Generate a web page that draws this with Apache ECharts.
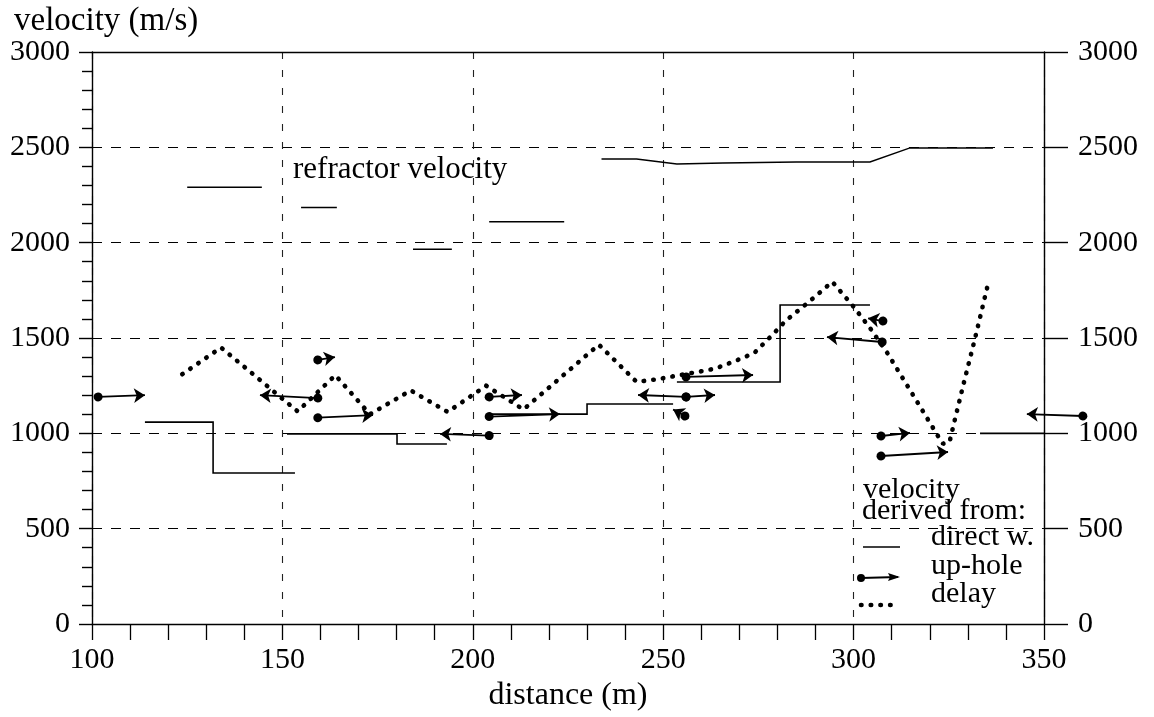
<!DOCTYPE html>
<html><head><meta charset="utf-8">
<script src="https://cdn.jsdelivr.net/npm/echarts@6/dist/echarts.min.js"></script>
<style>html,body{margin:0;padding:0;background:#fff}#c{width:1154px;height:717px}</style>
</head><body><div id="c"></div>
<script>
// ---- data (distance in m, velocity in m/s) ----
const xMin = 100, xMax = 350, xStep = 50;
const yMin = 0, yMax = 3000, yStep = 500;

// refractor velocity: short horizontal pieces [from, to, velocity]
const refractorSteps = [
  [125.0, 144.6, 2290],
  [154.9, 164.3, 2185],
  [184.3, 194.5, 1965],
  [204.3, 224.0, 2110]
];
// refractor velocity: continuous profile
const refractorProfile = [
  [233.8, 2439], [243.0, 2439], [253.6, 2413], [265.7, 2418],
  [285.0, 2423], [304.3, 2423], [314.8, 2497], [336.6, 2497]
];
// direct wave velocity steps [from, to, velocity]
const directSteps = [
  [113.9, 131.8, 1059], [131.8, 153.3, 792],
  [151.2, 180.1, 997], [180.1, 193.2, 944],
  [204.3, 230.0, 1101], [230.0, 252.6, 1154],
  [253.6, 280.7, 1269], [280.7, 304.3, 1673],
  [333.2, 350.0, 1000]
];
// up-hole velocities: dot position and arrow tip
const upholeDots = [
  [101.6, 1191], [159.3, 1185], [159.3, 1385], [159.3, 1082],
  [204.3, 1191], [204.3, 1088], [204.3, 988],
  [256.0, 1191], [256.0, 1191], [255.7, 1091], [256.0, 1296],
  [307.7, 1589], [307.5, 1479], [307.2, 986], [307.2, 881], [360.2, 1091]
];
const upholeTips = [
  [113.9, 1200], [144.1, 1200], [163.8, 1400], [173.8, 1095],
  [212.9, 1201], [222.9, 1101], [191.4, 997],
  [243.4, 1201], [263.6, 1201], [252.6, 1125], [273.6, 1306],
  [303.8, 1603], [293.0, 1505], [314.8, 1002], [324.8, 902], [345.5, 1101]
];
// delay-time derived velocity
const delayPoints = [
  [123.7, 1310], [133.9, 1450], [154.0, 1115], [163.9, 1305], [173.0, 1100],
  [183.7, 1225], [193.4, 1112], [203.5, 1250], [213.3, 1125], [233.1, 1465],
  [243.0, 1270], [248.3, 1283], [253.4, 1302], [258.5, 1320], [263.6, 1339],
  [268.7, 1378], [273.9, 1421], [278.9, 1521], [282.2, 1591], [288.3, 1690],
  [294.4, 1795], [300.0, 1664], [304.5, 1547], [308.9, 1420], [315.7, 1198],
  [322.0, 991], [323.5, 945], [325.2, 955], [326.4, 1056], [328.8, 1253],
  [332.0, 1507], [335.5, 1800]
];
const yAxisTitle = 'velocity (m/s)';
const xAxisTitle = 'distance (m)';
const annotation = 'refractor velocity';
const legendTitle = ['velocity', 'derived from:'];
const legendItems = ['direct w.', 'up-hole', 'delay'];

// ---- build ----
function stepsToPolylines(steps) {
  const lines = [];
  let cur = null, prev = null;
  steps.forEach(s => {
    if (prev && Math.abs(prev[1] - s[0]) < 1e-6) {
      cur.push([s[0], s[2]]);
    } else {
      cur = [[s[0], s[2]]];
      lines.push(cur);
    }
    cur.push([s[1], s[2]]);
    prev = s;
  });
  return lines.map(c => ({ coords: c }));
}

const FONT = '"Liberation Serif", "Times New Roman", serif';
const INK = '#000';

const chart = echarts.init(document.getElementById('c'), null, { renderer: 'canvas' });
const tickFont = { fontSize: 30, fontFamily: FONT, color: INK, formatter: v => String(v) };

chart.setOption({
  animation: false,
  backgroundColor: '#fff',
  grid: { left: 92, right: 110, top: 52, bottom: 93, containLabel: false },
  xAxis: [{
    type: 'value', min: xMin, max: xMax, interval: xStep, position: 'bottom',
    axisLine: { show: true, onZero: false, lineStyle: { color: INK, width: 1.4 } },
    axisTick: { show: true, inside: false, length: 16, lineStyle: { color: INK, width: 1.3 } },
    minorTick: { show: true, splitNumber: 5, length: 16, lineStyle: { color: INK, width: 1.3 } },
    axisLabel: Object.assign({ margin: 21 }, tickFont),
    splitLine: { show: true, lineStyle: { color: '#222', width: 1.1, type: [7, 11] } },
    name: xAxisTitle, nameLocation: 'middle', nameGap: 52,
    nameTextStyle: { fontSize: 32, fontFamily: FONT, color: INK }
  }, {
    type: 'value', min: xMin, max: xMax, position: 'top',
    axisLine: { show: true, onZero: false, lineStyle: { color: INK, width: 1.4 } },
    axisTick: { show: false }, axisLabel: { show: false }, splitLine: { show: false }
  }],
  yAxis: [{
    type: 'value', min: yMin, max: yMax, interval: yStep, position: 'left',
    axisLine: { show: true, onZero: false, lineStyle: { color: INK, width: 1.4 } },
    axisTick: { show: true, inside: false, length: 13, lineStyle: { color: INK, width: 1.4 } },
    minorTick: { show: true, splitNumber: 5, length: 10, lineStyle: { color: INK, width: 1.4 } },
    axisLabel: Object.assign({ margin: 22, padding: [0, 0, 8, 0] }, tickFont),
    splitLine: { show: true, lineStyle: { color: INK, width: 1.2, type: [10, 9] } }
  }, {
    type: 'value', min: yMin, max: yMax, interval: yStep, position: 'right',
    axisLine: { show: true, onZero: false, lineStyle: { color: INK, width: 1.4 } },
    axisTick: { show: true, inside: false, length: 24, lineStyle: { color: INK, width: 1.4 } },
    axisLabel: Object.assign({ margin: 34, padding: [0, 0, 8, 0] }, tickFont),
    splitLine: { show: false }
  }],
  series: [
    {
      name: 'refractor', type: 'lines', coordinateSystem: 'cartesian2d', polyline: true,
      xAxisIndex: 0, yAxisIndex: 0, silent: true,
      lineStyle: { color: INK, width: 1.5, opacity: 1 },
      data: refractorSteps.map(s => ({ coords: [[s[0], s[2]], [s[1], s[2]]] }))
        .concat([{ coords: refractorProfile }])
    },
    {
      name: 'direct w.', type: 'lines', coordinateSystem: 'cartesian2d', polyline: true,
      xAxisIndex: 0, yAxisIndex: 0, silent: true,
      lineStyle: { color: INK, width: 1.6, opacity: 1 },
      data: stepsToPolylines(directSteps)
    },
    {
      name: 'delay', type: 'line', xAxisIndex: 0, yAxisIndex: 0, silent: true,
      showSymbol: false, symbol: 'none',
      lineStyle: { color: INK, width: 4.6, type: [0.5, 9.2], cap: 'round' },
      data: delayPoints
    },
    {
      name: 'up-hole', type: 'lines', coordinateSystem: 'cartesian2d',
      xAxisIndex: 0, yAxisIndex: 0, silent: true, clip: false,
      symbol: ['circle', 'arrow'], symbolSize: [9, 11],
      lineStyle: { color: INK, width: 1.8, opacity: 1 },
      itemStyle: { opacity: 1 },
      data: upholeDots.map((d, i) => ({ coords: [d, upholeTips[i]] }))
    }
  ],
  graphic: [
    { type: 'text', left: 14, top: 5, style: { text: yAxisTitle, font: '33px ' + FONT, fill: INK } },
    { type: 'text', x: 293, y: 170, style: { text: annotation, font: '31px ' + FONT, fill: INK, textVerticalAlign: 'middle' } },
    { type: 'text', x: 863, y: 490, style: { text: legendTitle[0], font: '30px ' + FONT, fill: INK, textVerticalAlign: 'middle' } },
    { type: 'text', x: 862, y: 511, style: { text: legendTitle[1], font: '30px ' + FONT, fill: INK, textVerticalAlign: 'middle' } },
    { type: 'text', x: 931, y: 537, style: { text: legendItems[0], font: '30px ' + FONT, fill: INK, textVerticalAlign: 'middle' } },
    { type: 'text', x: 931, y: 566, style: { text: legendItems[1], font: '30px ' + FONT, fill: INK, textVerticalAlign: 'middle' } },
    { type: 'text', x: 931, y: 594, style: { text: legendItems[2], font: '30px ' + FONT, fill: INK, textVerticalAlign: 'middle' } },
    { type: 'line', shape: { x1: 863, y1: 547, x2: 900, y2: 547 }, style: { stroke: INK, lineWidth: 1.6 } },
    { type: 'line', shape: { x1: 861, y1: 578, x2: 898, y2: 577 }, style: { stroke: INK, lineWidth: 1.8 } },
    { type: 'circle', shape: { cx: 861, cy: 578, r: 4 }, style: { fill: INK } },
    { type: 'polygon', shape: { points: [[900, 577], [888, 573], [890, 577], [888, 581]] }, style: { fill: INK } },
    { type: 'line', shape: { x1: 861, y1: 605, x2: 898, y2: 605 }, style: { stroke: INK, lineWidth: 4.6, lineDash: [0.5, 9.2], lineCap: 'round' } }
  ]
});
</script></body></html>
